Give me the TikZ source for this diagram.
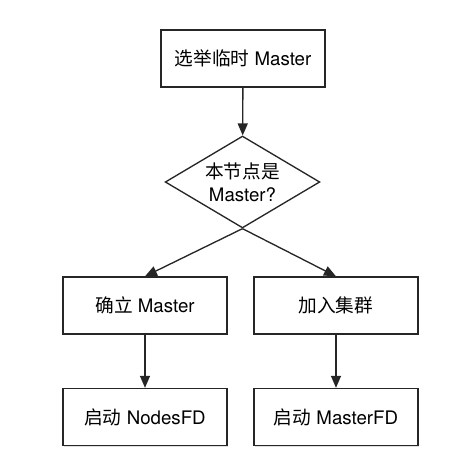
\documentclass[tikz,border=0pt]{standalone}
\usepackage{fontspec}
\setmainfont{TeX Gyre Heros}
\newfontfamily\cjk{Noto Sans CJK SC}
\usepackage{tikz}
\usetikzlibrary{shapes.geometric,arrows.meta,shadows}

\tikzset{
  stepbox/.style={draw=black!85,line width=1pt,fill=white,
    minimum width=123pt,minimum height=42.75pt,inner sep=2pt,
    drop shadow={shadow xshift=0.8pt,shadow yshift=-0.8pt,opacity=0.25}},
  choice/.style={draw=black!85,line width=1pt,fill=white,diamond,
    minimum width=116pt,minimum height=58.5pt,inner sep=-4pt,align=center},
  flow/.style={line width=1pt,draw=black!85,-{Triangle[length=9pt,width=7.5pt]}}
}

\begin{document}
\begin{tikzpicture}[x=0.75pt,y=-0.75pt,font=\fontsize{14pt}{17pt}\selectfont]
    \useasboundingbox (0,0) rectangle (452,469);
    \node[stepbox] (elect) at (243,58.5) {{\cjk 选举临时} Master};
    \node[choice] (ismaster) at (242.5,182) {{\cjk 本节点是}\\Master?};
    \node[stepbox] (confirm) at (145,305.5) {{\cjk 确立} Master};
    \node[stepbox] (join) at (336,305.5) {\cjk 加入集群};
    \node[stepbox] (nodesfd) at (145,417) {{\cjk 启动} NodesFD};
    \node[stepbox] (masterfd) at (336,417) {{\cjk 启动} MasterFD};
    \draw[flow] (elect) to (ismaster);
    \draw[flow] (ismaster.south) to (confirm.north);
    \draw[flow] (ismaster.south) to (join.north);
    \draw[flow] (confirm) to (nodesfd);
    \draw[flow] (join) to (masterfd);
\end{tikzpicture}
\end{document}
